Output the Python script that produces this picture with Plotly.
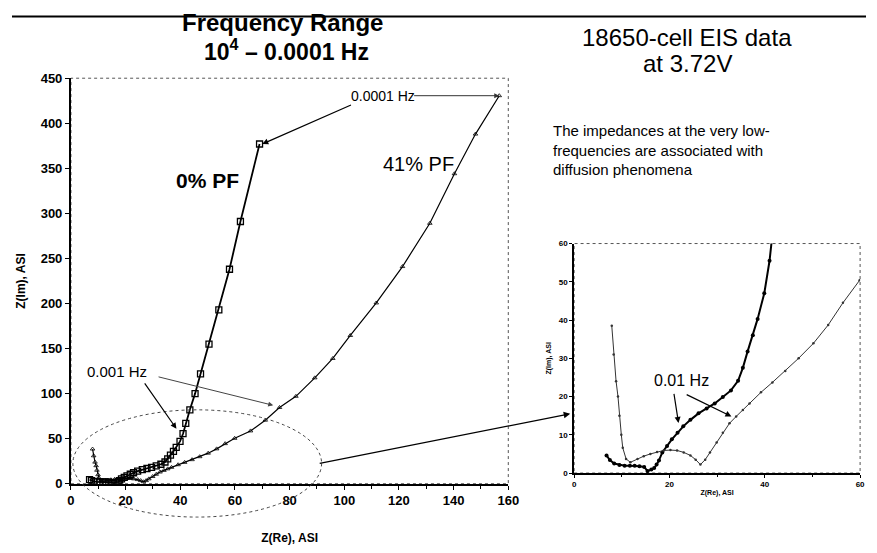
import plotly.graph_objects as go

# 0% PF (high frequency -> low frequency), Z(Re) and Z(Im) in ASI
pf0_re = [6.8, 7.5, 8.4, 9.5, 10.6, 11.7, 12.7, 13.7, 14.7, 15.4, 16.2, 16.8, 17.3, 17.8,
          18.5, 19.5, 20.5, 21.7, 22.9, 24.4, 26.1, 27.8, 29.5, 31.2, 32.9, 34.4, 35.4,
          36.4, 37.5, 38.5, 39.9, 41.0, 42.0, 43.5, 45.4, 47.4, 50.5, 54.1, 58.0, 62.0, 69.0]
pf0_im = [4.6, 3.4, 2.5, 2.1, 1.9, 1.9, 1.9, 1.8, 1.6, 0.5, 0.9, 1.3, 2.2, 3.3,
          5.4, 7.1, 8.8, 10.5, 12.2, 13.9, 15.6, 16.9, 18.2, 19.9, 21.6, 24.1, 27.5,
          31.8, 36.0, 40.3, 47.0, 55.5, 67.0, 82.0, 100.0, 122.0, 155.0, 193.0, 238.0, 291.0, 377.0]

# 41% PF
pf41_re = [7.9, 8.3, 8.8, 9.2, 9.5, 9.9, 10.2, 10.9, 11.8, 13.3, 14.6, 16.0, 17.4, 18.8,
           20.2, 21.6, 23.0, 24.4, 25.5, 26.5, 27.5, 28.5, 29.9, 31.2, 32.6, 34.0, 35.4,
           36.8, 39.2, 41.6, 44.3, 47.1, 50.2, 53.3, 56.4, 59.9, 65.7, 71.1, 76.3, 82.3,
           89.2, 95.8, 102.2, 111.7, 121.3, 131.3, 140.3, 148.0, 156.7]
pf41_im = [38.5, 31.0, 24.0, 20.0, 15.0, 10.0, 6.6, 3.7, 2.8, 3.7, 4.4, 5.0, 5.5, 5.9,
           6.0, 5.9, 5.4, 4.6, 3.5, 2.2, 3.5, 5.4, 8.0, 10.5, 13.0, 14.8, 16.5,
           18.2, 21.1, 23.7, 26.7, 30.0, 33.9, 38.7, 44.5, 50.4, 58.6, 70.5, 84.6, 97.0,
           117.5, 139.0, 164.5, 200.6, 241.0, 289.0, 344.0, 388.0, 430.6]

main_x_ticks = [0, 20, 40, 60, 80, 100, 120, 140, 160]
main_y_ticks = [0, 50, 100, 150, 200, 250, 300, 350, 400, 450]
inset_x_ticks = [0, 20, 40, 60]
inset_y_ticks = [0, 10, 20, 30, 40, 50, 60]

# the page body has an 8px margin, so the figure is drawn 8px in from the corner
OFF = 8
W, H = 877 - OFF, 553 - OFF
FONT = "Arial, Liberation Sans, sans-serif"


def px(x, y):
    # screen pixel -> paper fraction (margins are zero)
    return (x - OFF) / W, 1 - (y - OFF) / H


fig = go.Figure()

# main plot
fig.add_trace(go.Scatter(
    x=pf0_re, y=pf0_im, mode="lines+markers", name="0% PF",
    line=dict(color="black", width=1.8),
    marker=dict(symbol="square-open", size=6, color="black", line=dict(width=1.3)),
    xaxis="x", yaxis="y"))
fig.add_trace(go.Scatter(
    x=pf41_re, y=pf41_im, mode="lines+markers", name="41% PF",
    line=dict(color="black", width=1.2),
    marker=dict(symbol="triangle-up-open", size=4, color="black", line=dict(width=0.8)),
    xaxis="x", yaxis="y"))

# inset (zoom of the low-frequency region)
fig.add_trace(go.Scatter(
    x=pf0_re, y=pf0_im, mode="lines+markers", name="0% PF",
    line=dict(color="black", width=2),
    marker=dict(symbol="circle", size=4, color="black"),
    xaxis="x2", yaxis="y2"))
fig.add_trace(go.Scatter(
    x=pf41_re, y=pf41_im, mode="lines+markers", name="41% PF",
    line=dict(color="#333333", width=1),
    marker=dict(symbol="circle", size=2.5, color="#333333"),
    xaxis="x2", yaxis="y2"))

x0, _ = px(68, 0)
x1, _ = px(513, 0)
_, yb = px(0, 490)
_, yt = px(0, 73)
ix0, _ = px(580, 0)
ix1, _ = px(871, 0)
_, iyb = px(0, 479)
_, iyt = px(0, 243)

axis_common = dict(showgrid=False, zeroline=False, showline=True, linecolor="black",
                   ticks="outside", tickcolor="black", mirror=False)

fig.update_layout(
    width=W, height=H,
    margin=dict(l=0, r=0, t=0, b=0),
    paper_bgcolor="white", plot_bgcolor="white",
    showlegend=False,
    font=dict(family=FONT, color="black"),
    xaxis=dict(domain=[x0, x1], range=[0, 160], tickvals=main_x_ticks,
               linewidth=2, ticklen=4,
               minor=dict(dtick=10, ticks="outside", ticklen=3, tickcolor="black"),
               tickfont=dict(size=13, weight="bold"),
               title=dict(text="Z(Re), ASI", font=dict(size=12, weight="bold"), standoff=26),
               anchor="y", **axis_common),
    yaxis=dict(domain=[yb, yt], range=[0, 450], tickvals=main_y_ticks,
               linewidth=2, ticklen=4,
               tickfont=dict(size=13, weight="bold"),
               title=dict(text="Z(Im), ASI", font=dict(size=12, weight="bold"), standoff=12),
               anchor="x", **axis_common),
    xaxis2=dict(domain=[ix0, ix1], range=[0, 60], tickvals=inset_x_ticks,
                linewidth=1.5, ticklen=3,
                minor=dict(dtick=10, ticks="outside", ticklen=2, tickcolor="black"),
                tickfont=dict(size=8, weight="bold"),
                title=dict(text="Z(Re), ASI", font=dict(size=7, weight="bold"), standoff=2),
                anchor="y2", **axis_common),
    yaxis2=dict(domain=[iyb, iyt], range=[0, 60], tickvals=inset_y_ticks,
                linewidth=1.5, ticklen=3,
                tickfont=dict(size=8, weight="bold"),
                title=dict(text="Z(Im), ASI", font=dict(size=7, weight="bold"), standoff=6),
                anchor="x2", **axis_common),
)

# dotted frame round both plot areas
for xr, yr in (("x domain", "y domain"), ("x2 domain", "y2 domain")):
    fig.add_shape(type="rect", xref=xr, yref=yr, x0=0, x1=1, y0=0, y1=1,
                  line=dict(color="#555555", width=1, dash="dot"), layer="below")

# ellipse round the low-frequency region (data units -> domain fraction)
ell_re = [0.7, 91.7]
ell_im = [-37, 82]
fig.add_shape(type="circle", xref="x domain", yref="y domain",
              x0=ell_re[0] / 160, x1=ell_re[1] / 160,
              y0=ell_im[0] / 450, y1=ell_im[1] / 450,
              line=dict(color="#444444", width=1, dash="dot"))

# arrow from the ellipse to the inset
hx, hy = px(576, 418)
fig.add_annotation(x=hx, y=hy, xref="paper", yref="paper", ax=-252, ay=50,
                   showarrow=True, arrowhead=2, arrowsize=1, arrowwidth=1.3,
                   arrowcolor="black", text="")

# labels inside the main plot
fig.add_annotation(x=50, y=337, xref="x", yref="y", text="<b>0% PF</b>",
                   showarrow=False, font=dict(size=21))
fig.add_annotation(x=127, y=355, xref="x", yref="y", text="41% PF",
                   showarrow=False, font=dict(size=20))

fig.add_annotation(x=114, y=430, xref="x", yref="y", text="0.0001 Hz",
                   showarrow=False, font=dict(size=14))
fig.add_annotation(x=156.7, y=430.6, ax=125, ay=430.6, xref="x", yref="y",
                   axref="x", ayref="y", text="", showarrow=True, arrowhead=2,
                   arrowwidth=1, arrowcolor="#333333")
fig.add_annotation(x=70, y=377, ax=103, ay=421, xref="x", yref="y",
                   axref="x", ayref="y", text="", showarrow=True, arrowhead=2,
                   arrowwidth=1.2, arrowcolor="black")

fig.add_annotation(x=17, y=124, xref="x", yref="y", text="0.001 Hz",
                   showarrow=False, font=dict(size=15))
fig.add_annotation(x=38.6, y=61, ax=26.6, ay=113, xref="x", yref="y",
                   axref="x", ayref="y", text="", showarrow=True, arrowhead=2,
                   arrowwidth=1.2, arrowcolor="black")
fig.add_annotation(x=74, y=87, ax=31.5, ay=119, xref="x", yref="y",
                   axref="x", ayref="y", text="", showarrow=True, arrowhead=2,
                   arrowwidth=1, arrowcolor="#444444")

# labels in the inset
fig.add_annotation(x=22.5, y=24.2, xref="x2", yref="y2", text="0.01 Hz",
                   showarrow=False, font=dict(size=16))
fig.add_annotation(x=21.9, y=13.1, ax=20.9, ay=21.1, xref="x2", yref="y2",
                   axref="x2", ayref="y2", text="", showarrow=True, arrowhead=2,
                   arrowwidth=1.2, arrowcolor="black")
fig.add_annotation(x=33, y=14.8, ax=23.3, ay=20.7, xref="x2", yref="y2",
                   axref="x2", ayref="y2", text="", showarrow=True, arrowhead=2,
                   arrowwidth=1.2, arrowcolor="black")

# headings and notes
for text, cx, cy, size in (
        ("<b>Frequency Range</b>", 283, 16, 24),
        ("<b>10<sup>4</sup> – 0.0001 Hz</b>", 287, 44, 23),
        ("18650-cell EIS data", 695, 31, 24),
        ("at 3.72V", 695, 58, 24)):
    tx, ty = px(cx, cy)
    fig.add_annotation(x=tx, y=ty, xref="paper", yref="paper", text=text,
                       showarrow=False, font=dict(size=size),
                       xanchor="center", yanchor="middle")

tx, ty = px(556, 116)
fig.add_annotation(x=tx, y=ty, xref="paper", yref="paper",
                   text="The impedances at the very low-<br>frequencies are associated with<br>diffusion phenomena",
                   showarrow=False, font=dict(size=15), align="left",
                   xanchor="left", yanchor="top")

# rule along the top edge
fig.add_shape(type="line", xref="paper", yref="paper", x0=0, x1=1, y0=0.997, y1=0.997,
              line=dict(color="black", width=2))

fig.write_html("out.html")
